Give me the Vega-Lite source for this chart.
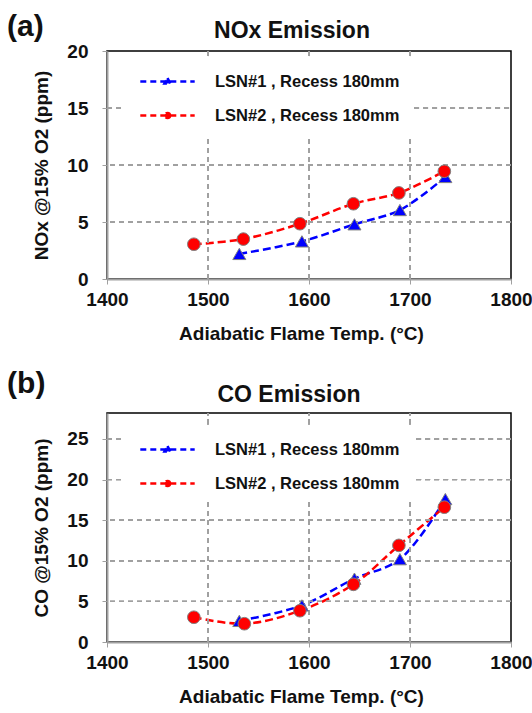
{
  "$schema": "https://vega.github.io/schema/vega-lite/v6.json",
  "padding": {"left": 7, "top": 12, "right": 2, "bottom": 3},
  "background": "white",
  "spacing": 24,
  "resolve": {"scale": {"color": "independent"}, "legend": {"color": "independent"}},
  "config": {
    "font": "Liberation Sans",
    "view": {"stroke": "#000", "strokeWidth": 1.5},
    "axis": {
      "labelFont": "Liberation Sans", "labelFontSize": 19, "labelFontWeight": "bold", "labelColor": "#111",
      "titleFont": "Liberation Sans", "titleFontSize": 19, "titleFontWeight": "bold", "titleColor": "#111",
      "domainColor": "#a0a0a0", "domainWidth": 2, "tickColor": "#a0a0a0", "tickSize": 5, "labelFlush": false, "grid": false
    },
    "rule": {"color": "#a0a0a0", "strokeDash": [5, 4], "strokeWidth": 1},
    "legend": {
      "orient": "none", "legendX": 14, "legendY": 5, "padding": 8,
      "symbolSize": 1024, "symbolStrokeWidth": 2.5, "symbolDash": [6, 4], "symbolOffset": 21,
      "labelOffset": 30, "labelFont": "Liberation Sans", "labelFontSize": 16.5, "labelFontWeight": "bold",
      "labelColor": "#111", "rowPadding": 8, "title": null, "labelLimit": 400
    }
  },
  "datasets": {
    "nox": [
      {"series": "LSN#1 , Recess 180mm", "temp": 1531, "value": 2.2},
      {"series": "LSN#1 , Recess 180mm", "temp": 1593, "value": 3.3},
      {"series": "LSN#1 , Recess 180mm", "temp": 1645, "value": 4.8},
      {"series": "LSN#1 , Recess 180mm", "temp": 1690, "value": 6.05},
      {"series": "LSN#1 , Recess 180mm", "temp": 1735, "value": 8.95},
      {"series": "LSN#2 , Recess 180mm", "temp": 1486, "value": 3.05},
      {"series": "LSN#2 , Recess 180mm", "temp": 1535, "value": 3.5},
      {"series": "LSN#2 , Recess 180mm", "temp": 1591, "value": 4.85},
      {"series": "LSN#2 , Recess 180mm", "temp": 1644, "value": 6.6},
      {"series": "LSN#2 , Recess 180mm", "temp": 1689, "value": 7.55},
      {"series": "LSN#2 , Recess 180mm", "temp": 1734, "value": 9.45}
    ],
    "co": [
      {"series": "LSN#1 , Recess 180mm", "temp": 1531, "value": 2.6},
      {"series": "LSN#1 , Recess 180mm", "temp": 1593, "value": 4.5},
      {"series": "LSN#1 , Recess 180mm", "temp": 1645, "value": 7.8},
      {"series": "LSN#1 , Recess 180mm", "temp": 1690, "value": 10.2},
      {"series": "LSN#1 , Recess 180mm", "temp": 1735, "value": 17.6},
      {"series": "LSN#2 , Recess 180mm", "temp": 1486, "value": 3.05},
      {"series": "LSN#2 , Recess 180mm", "temp": 1536, "value": 2.25},
      {"series": "LSN#2 , Recess 180mm", "temp": 1591, "value": 3.85},
      {"series": "LSN#2 , Recess 180mm", "temp": 1644, "value": 7.1},
      {"series": "LSN#2 , Recess 180mm", "temp": 1689, "value": 11.9},
      {"series": "LSN#2 , Recess 180mm", "temp": 1734, "value": 16.6}
    ]
  },
  "vconcat": [
    {
      "title": {"text": "(a)", "anchor": "start", "frame": "bounds", "fontSize": 30, "fontWeight": "bold", "color": "#111", "dx": -25, "offset": -23},
      "vconcat": [
        {
          "width": 404, "height": 228,
          "title": {"text": "NOx Emission", "fontSize": 23, "fontWeight": "bold", "color": "#111", "anchor": "middle", "frame": "group", "dx": -17, "offset": -1},
          "data": {"name": "nox"},
          "encoding": {
            "x": {"field": "temp", "type": "quantitative", "scale": {"domain": [1400, 1800], "nice": false},
                  "axis": {"title": "Adiabatic Flame Temp. (°C)", "values": [1400, 1500, 1600, 1700, 1800], "format": "d", "labelPadding": 6, "titlePadding": 15, "titleX": 194}},
            "y": {"field": "value", "type": "quantitative", "scale": {"domain": [0, 20], "nice": false},
                  "axis": {"title": "NOx @15% O2 (ppm)", "values": [0, 5, 10, 15, 20], "labelPadding": 14, "titlePadding": 15}}
          },
          "layer": [
            {
              "mark": {"type": "line", "interpolate": "catmull-rom", "strokeWidth": 2.5, "strokeDash": [8, 4]},
              "encoding": {
                "color": {"field": "series", "type": "nominal",
                  "scale": {"domain": ["LSN#1 , Recess 180mm", "LSN#2 , Recess 180mm"], "range": ["#0000ff", "#ff0000"]},
                  "legend": {
                    "encode": {"symbols": {"update": {
                      "shape": {"signal": "datum.value === 'LSN#1 , Recess 180mm' ? 'M-1.7,0H1.7M0,-0.22L0.19,0.13L-0.19,0.13Z' : 'M-1.7,0H1.7M0.16,0A0.16,0.16,0,1,1,-0.16,0A0.16,0.16,0,1,1,0.16,0Z'"},
                      "fill": {"signal": "datum.value === 'LSN#1 , Recess 180mm' ? '#0000ff' : '#ff0000'"}
                    }}}
                  }}
              }
            },
            {"mark": "rule", "encoding": {"y": {"datum": 5}, "x": null}},
            {"mark": "rule", "encoding": {"y": {"datum": 10}, "x": null}},
            {"mark": "rule", "encoding": {"y": {"datum": 15}, "x": {"datum": 1400}, "x2": {"datum": 1414}}},
            {"mark": "rule", "encoding": {"y": {"datum": 15}, "x": {"datum": 1704}, "x2": {"datum": 1800}}},
            {"mark": "rule", "encoding": {"x": {"datum": 1500}, "y": {"datum": 0}, "y2": {"datum": 12.5}}},
            {"mark": "rule", "encoding": {"x": {"datum": 1600}, "y": {"datum": 0}, "y2": {"datum": 12.5}}},
            {"mark": "rule", "encoding": {"x": {"datum": 1700}, "y": {"datum": 0}, "y2": {"datum": 12.5}}},
            {"mark": "rule", "encoding": {"x": {"datum": 1500}, "y": {"datum": 19.56}, "y2": {"datum": 20}}},
            {"mark": "rule", "encoding": {"x": {"datum": 1600}, "y": {"datum": 19.56}, "y2": {"datum": 20}}},
            {"mark": "rule", "encoding": {"x": {"datum": 1700}, "y": {"datum": 19.56}, "y2": {"datum": 20}}},
            {
              "transform": [{"filter": "datum.series === 'LSN#1 , Recess 180mm'"}],
              "mark": {"type": "point", "shape": "triangle-up", "filled": true, "size": 170, "color": "#0000ff", "stroke": "#808080", "strokeWidth": 1, "opacity": 1}
            },
            {
              "transform": [{"filter": "datum.series === 'LSN#2 , Recess 180mm'"}],
              "mark": {"type": "point", "shape": "circle", "filled": true, "size": 160, "color": "#ff0000", "stroke": "#808080", "strokeWidth": 1, "opacity": 1}
            }
          ]
        }
      ]
    },
    {
      "title": {"text": "(b)", "anchor": "start", "frame": "bounds", "fontSize": 30, "fontWeight": "bold", "color": "#111", "dx": -25, "offset": -16},
      "vconcat": [
        {
          "width": 404, "height": 229,
          "title": {"text": "CO Emission", "fontSize": 23, "fontWeight": "bold", "color": "#111", "anchor": "middle", "frame": "group", "dx": -20, "offset": 6},
          "data": {"name": "co"},
          "encoding": {
            "x": {"field": "temp", "type": "quantitative", "scale": {"domain": [1400, 1800], "nice": false},
                  "axis": {"title": "Adiabatic Flame Temp. (°C)", "values": [1400, 1500, 1600, 1700, 1800], "format": "d", "labelPadding": 6, "titlePadding": 15, "titleX": 194}},
            "y": {"field": "value", "type": "quantitative", "scale": {"domain": [0, 28.2], "nice": false},
                  "axis": {"title": "CO @15% O2 (ppm)", "values": [0, 5, 10, 15, 20, 25], "labelPadding": 14, "titlePadding": 15}}
          },
          "layer": [
            {
              "mark": {"type": "line", "interpolate": "catmull-rom", "strokeWidth": 2.5, "strokeDash": [8, 4]},
              "encoding": {
                "color": {"field": "series", "type": "nominal",
                  "scale": {"domain": ["LSN#1 , Recess 180mm", "LSN#2 , Recess 180mm"], "range": ["#0000ff", "#ff0000"]},
                  "legend": {
                    "legendY": 11,
                    "encode": {"symbols": {"update": {
                      "shape": {"signal": "datum.value === 'LSN#1 , Recess 180mm' ? 'M-1.7,0H1.7M0,-0.22L0.19,0.13L-0.19,0.13Z' : 'M-1.7,0H1.7M0.16,0A0.16,0.16,0,1,1,-0.16,0A0.16,0.16,0,1,1,0.16,0Z'"},
                      "fill": {"signal": "datum.value === 'LSN#1 , Recess 180mm' ? '#0000ff' : '#ff0000'"}
                    }}}
                  }}
              }
            },
            {"mark": "rule", "encoding": {"y": {"datum": 5}, "x": null}},
            {"mark": "rule", "encoding": {"y": {"datum": 10}, "x": null}},
            {"mark": "rule", "encoding": {"y": {"datum": 15}, "x": null}},
            {"mark": "rule", "encoding": {"y": {"datum": 20}, "x": {"datum": 1400}, "x2": {"datum": 1417}}},
            {"mark": "rule", "encoding": {"y": {"datum": 20}, "x": {"datum": 1706}, "x2": {"datum": 1800}}},
            {"mark": "rule", "encoding": {"y": {"datum": 25}, "x": {"datum": 1400}, "x2": {"datum": 1417}}},
            {"mark": "rule", "encoding": {"y": {"datum": 25}, "x": {"datum": 1706}, "x2": {"datum": 1800}}},
            {"mark": "rule", "encoding": {"x": {"datum": 1500}, "y": {"datum": 0}, "y2": {"datum": 17.3}}},
            {"mark": "rule", "encoding": {"x": {"datum": 1600}, "y": {"datum": 0}, "y2": {"datum": 17.3}}},
            {"mark": "rule", "encoding": {"x": {"datum": 1700}, "y": {"datum": 0}, "y2": {"datum": 17.3}}},
            {"mark": "rule", "encoding": {"x": {"datum": 1500}, "y": {"datum": 26.8}, "y2": {"datum": 28.2}}},
            {"mark": "rule", "encoding": {"x": {"datum": 1600}, "y": {"datum": 26.8}, "y2": {"datum": 28.2}}},
            {"mark": "rule", "encoding": {"x": {"datum": 1700}, "y": {"datum": 26.8}, "y2": {"datum": 28.2}}},
            {
              "transform": [{"filter": "datum.series === 'LSN#1 , Recess 180mm'"}],
              "mark": {"type": "point", "shape": "triangle-up", "filled": true, "size": 170, "color": "#0000ff", "stroke": "#808080", "strokeWidth": 1, "opacity": 1}
            },
            {
              "transform": [{"filter": "datum.series === 'LSN#2 , Recess 180mm'"}],
              "mark": {"type": "point", "shape": "circle", "filled": true, "size": 160, "color": "#ff0000", "stroke": "#808080", "strokeWidth": 1, "opacity": 1}
            }
          ]
        }
      ]
    }
  ]
}
